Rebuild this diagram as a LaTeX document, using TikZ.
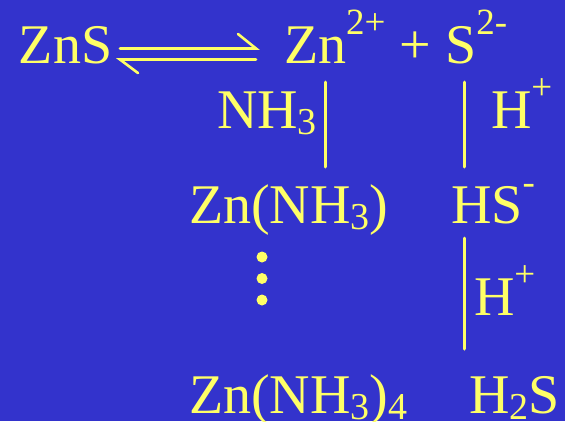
\documentclass[tikz,border=0pt]{standalone}
\usepackage{fontspec}
\setmainfont{Liberation Serif}
\definecolor{bg}{RGB}{51,51,204}
\definecolor{fg}{RGB}{255,255,102}
\newcommand\mysup[1]{\raisebox{29pt}{\fontsize{37}{37}\selectfont #1}}
\newcommand\mysub[1]{\raisebox{-6pt}{\fontsize{38}{38}\selectfont #1}}
\tikzset{
  txt/.style={anchor=base west, inner sep=0pt, outer sep=0pt, text=fg, font=\fontsize{56}{60}\selectfont},
  barline/.style={draw=fg, line width=3pt, line cap=round},
  arrline/.style={draw=fg, line width=2.6pt, line cap=round},
  dotmark/.style={fill=fg}
}
\begin{document}
\begin{tikzpicture}[x=1pt,y=-1pt]
\fill[bg] (0,0) rectangle (565,421);
\useasboundingbox (0,0) rectangle (565,421);
% texts
\node[txt] (zns) at (19,63) {ZnS};
\node[txt] (ions) at (284,63) {Zn\mysup{2+} + S\mysup{2-}};
\node[txt] (nh3) at (217,128) {NH\mysub{3}};
\node[txt] (hp1) at (491,128) {H\mysup{+}};
\node[txt] (znnh3) at (189,223) {Zn(NH\mysub{3})};
\node[txt] (hs) at (451,223) {HS\mysup{-}};
\node[txt] (hp2) at (474,315) {H\mysup{+}};
\node[txt] (znnh34) at (189,413) {Zn(NH\mysub{3})\mysub{4}};
\node[txt] (h2s) at (469,413) {H\mysub{2}S};
% equilibrium arrow
\coordinate (aL1) at (120,48.5);
\coordinate (aR1) at (256,48.5);
\coordinate (aB1) at (238,34);
\coordinate (aL2) at (120,59.5);
\coordinate (aR2) at (256,59.5);
\coordinate (aB2) at (138,73);
\draw[arrline] (aL1) -- (aR1) -- (aB1);
\draw[arrline] (aR2) -- (aL2) -- (aB2);
% vertical bars
\coordinate (b1t) at (325.7,82);
\coordinate (b1b) at (325.7,167);
\coordinate (b2t) at (464,82);
\coordinate (b2b) at (464,167);
\coordinate (b3t) at (464,238);
\coordinate (b3b) at (464,349);
\draw[barline] (b1t) -- (b1b);
\draw[barline] (b2t) -- (b2b);
\draw[barline] (b3t) -- (b3b);
% dots
\fill[dotmark] (262,257) circle (5.5);
\fill[dotmark] (262,278.5) circle (5.5);
\fill[dotmark] (262,300) circle (5.5);
\end{tikzpicture}
\end{document}
